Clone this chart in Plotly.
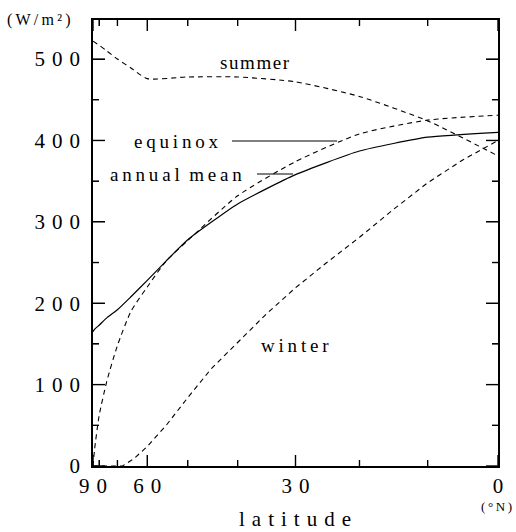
import numpy as np
import plotly.graph_objects as go

# ---- data ----
summer_lat = [90, 80, 75, 70, 65, 60, 50, 40, 30, 20, 10, 0]
summer_val = [522, 517, 510, 500, 489, 476, 478, 478, 472, 454, 424, 381]

equinox_lat = [90, 85, 80, 75, 70, 65, 60, 55, 50, 40, 30, 20, 10, 0]
equinox_val = [0, 20, 62, 104, 148, 190, 220, 252, 277, 332, 374, 408, 425, 431]

annual_lat = [90, 85, 80, 75, 70, 65, 60, 55, 50, 40, 30, 20, 10, 0]
annual_val = [165, 168, 173, 182, 192, 208, 228, 252, 278, 322, 358, 387, 404, 410]

winter_lat = [90, 68, 64, 60, 55, 50, 45, 40, 35, 30, 25, 20, 15, 10, 5, 0]
winter_val = [0, 0, 9, 24, 50, 84, 120, 152, 186, 219, 250, 281, 315, 348, 376, 400]

x_major_lat = [90, 60, 30, 0]
x_major_text = ["90", "60", "30", "0"]
x_minor_lat = [80, 70, 50, 40, 20, 10]
y_major = [0, 100, 200, 300, 400, 500]
y_minor = [50, 150, 250, 350, 450]

FONT = "Liberation Serif, Times New Roman, serif"
G3 = "\u2004"   # three-per-em space for letter spacing
G6 = "\u2009"   # thin space
WORD = "\u2002"  # en space between words


def spaced(s, gap):
    return gap.join(list(s))


def sx(lat):
    return np.sin(np.radians(np.asarray(lat, dtype=float)))


fig = go.Figure()
line_dash = dict(color="black", width=1.1, dash="5px,4px")
fig.add_trace(go.Scatter(x=sx(summer_lat), y=summer_val, mode="lines",
                         line=dict(line_dash, shape="spline", smoothing=0.6)))
fig.add_trace(go.Scatter(x=sx(equinox_lat), y=equinox_val, mode="lines",
                         line=dict(line_dash, shape="spline", smoothing=0.6)))
fig.add_trace(go.Scatter(x=sx(winter_lat), y=winter_val, mode="lines",
                         line=dict(line_dash, shape="linear")))
fig.add_trace(go.Scatter(x=sx(annual_lat), y=annual_val, mode="lines",
                         line=dict(color="black", width=1.2, shape="spline", smoothing=0.5)))

W, H = 516, 532
L, R, T, B = 93, 18, 20, 66
pw, ph = W - L - R, H - T - B


def px2paper(px, py):
    return (px - L) / pw, (H - B - py) / ph


annotations = []


def label(text, px, py, size, xanchor="center"):
    xp, yp = px2paper(px, py)
    annotations.append(dict(text=text, x=xp, y=yp, xref="paper", yref="paper",
                            xanchor=xanchor, yanchor="middle", showarrow=False,
                            font=dict(family=FONT, size=size, color="black")))


label(spaced("summer", "\u200a"), 255, 62, 19)
label(spaced("equinox", G6), 176, 141, 19)
label(spaced("annual", G6) + WORD + spaced("mean", G6), 176, 174, 19)
label(spaced("winter", G6), 295, 345, 19)
label(spaced("(W/m²)", G6), 38, 20, 16)
label(spaced("(°N)", G6), 496, 507, 13)
label(spaced("latitude", G3), 295, 519, 21)

shapes = []
# leader lines from the labels to their curves
for (x0, x1, yy) in [(232, 337, 141), (257, 293, 174)]:
    a0, b0 = px2paper(x0, yy)
    a1, _ = px2paper(x1, yy)
    shapes.append(dict(type="line", xref="paper", yref="paper", x0=a0, x1=a1, y0=b0, y1=b0,
                       line=dict(color="black", width=1)))

# inside tick marks on all four sides, placed at the axis tick values
TICK_STYLE = dict(color="black", width=1.4)
for lats, length in [(x_major_lat, 11), (x_minor_lat, 6)]:
    for xv in sx(lats):
        for (ya, yb) in [(0, length / ph), (1 - length / ph, 1)]:
            shapes.append(dict(type="line", xref="x", yref="paper", x0=float(xv), x1=float(xv),
                               y0=ya, y1=yb, line=TICK_STYLE))
for vals, length in [(y_major, 12), (y_minor, 6)]:
    for yv in vals:
        for (xa, xb) in [(0, length / pw), (1 - length / pw, 1)]:
            shapes.append(dict(type="line", xref="paper", yref="y", x0=xa, x1=xb,
                               y0=yv, y1=yv, line=TICK_STYLE))

xminor = dict(tickmode="array", tickvals=list(sx(x_minor_lat)), ticks="inside",
              ticklen=6, tickwidth=1.4, tickcolor="black")
yminor = dict(tickmode="array", tickvals=y_minor, ticks="inside",
              ticklen=6, tickwidth=1.4, tickcolor="black")

fig.update_layout(
    width=W, height=H,
    margin=dict(l=L, r=R, t=T, b=B),
    paper_bgcolor="white", plot_bgcolor="white",
    showlegend=False,
    annotations=annotations,
    shapes=shapes,
    xaxis=dict(range=[1, 0], showline=True, linecolor="black", linewidth=1.5, mirror="ticks",
               ticks="inside", ticklen=11, tickwidth=1.4, tickcolor="black",
               showgrid=False, zeroline=False,
               tickfont=dict(family=FONT, size=21, color="black"),
               tickmode="array", tickvals=list(sx(x_major_lat)),
               ticktext=[spaced(t, G3) for t in x_major_text], minor=xminor),
    yaxis=dict(range=[0, 548], showline=True, linecolor="black", linewidth=1.5, mirror="ticks",
               ticks="inside", ticklen=12, tickwidth=1.4, tickcolor="black",
               showgrid=False, zeroline=False,
               tickfont=dict(family=FONT, size=21, color="black"),
               tickmode="array", tickvals=y_major,
               ticktext=[spaced(str(v), G3) for v in y_major],
               ticklabelstandoff=7, minor=yminor),
)

fig.write_html("out.html", post_script="document.body.style.margin='0px';",
               config={"displayModeBar": False})
